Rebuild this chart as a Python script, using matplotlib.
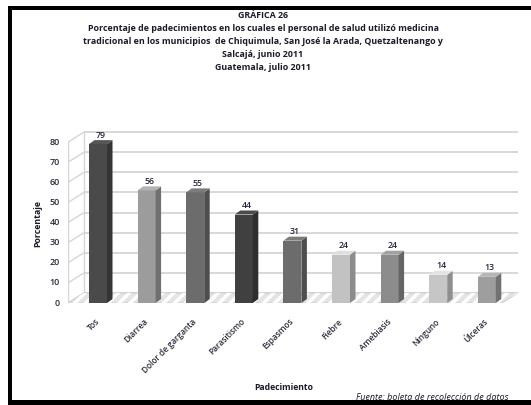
import matplotlib
matplotlib.use("Agg")
import matplotlib.pyplot as plt
from matplotlib.patches import Polygon, Rectangle
import matplotlib.colors as mcolors
import numpy as np

categories = ["Tos", "Diarrea", "Dolor de garganta", "Parasitismo", "Espasmos",
              "Fiebre", "Amebiasis", "Ninguno", "Úlceras"]
values = [79, 56, 55, 44, 31, 24, 24, 14, 13]
bar_colors = ["#4a4a4a", "#9c9c9c", "#6c6c6c", "#404040", "#6c6c6c",
              "#c2c2c2", "#8c8c8c", "#c6c6c6", "#9e9e9e"]
yticks = [0, 10, 20, 30, 40, 50, 60, 70, 80]
title_lines = ["GRÁFICA 26",
               "Porcentaje de padecimientos en los cuales el personal de salud utilizó medicina",
               "tradicional en los municipios  de Chiquimula, San José la Arada, Quetzaltenango y",
               "Salcajá, junio 2011",
               "Guatemala, julio 2011"]
xlabel = "Padecimiento"
ylabel = "Porcentaje"
source = "Fuente: boleta de recolección de datos"

plt.rcParams['font.family'] = ['Open Sans', 'DejaVu Sans']

W, H = 531, 405
fig = plt.figure(figsize=(W / 100, H / 100), dpi=100)

left_px, right_px, bot_px, top_px = 68, 518, 303, 122
ax = fig.add_axes([left_px / W, 1 - bot_px / H, (right_px - left_px) / W, (bot_px - top_px) / H])
ymax = 90
ax.set_ylim(0, ymax)
pxu = 48.6
xmin = -(98 - left_px) / pxu
xmax = xmin + (right_px - left_px) / pxu
ax.set_xlim(xmin, xmax)
ax.axis('off')

ypx = (bot_px - top_px) / ymax
ddx = 16 / pxu
ddy = 10 / ypx

grid_c = "#d6d6d6"
plt.rcParams['hatch.color'] = 'white'
plt.rcParams['hatch.linewidth'] = 2.5
floor = Polygon([(xmin, 0), (xmax - ddx, 0), (xmax, ddy), (xmin + ddx, ddy)],
                closed=True, facecolor="#e4e4e4", edgecolor="#d0d0d0", lw=0.8,
                zorder=1)
ax.add_patch(floor)
floor2 = Polygon([(xmin, 0), (xmax - ddx, 0), (xmax, ddy), (xmin + ddx, ddy)],
                 closed=True, facecolor="none", edgecolor="white", lw=0,
                 hatch="///", zorder=1.1)
ax.add_patch(floor2)

for t in yticks:
    ax.plot([xmin + ddx, xmax], [t + ddy, t + ddy], color=grid_c, lw=1.3, zorder=0.5,
            solid_capstyle='butt')
    ax.plot([xmin, xmin + ddx], [t, t + ddy], color=grid_c, lw=1.0, zorder=0.5)
ax.plot([xmin, xmin], [0, yticks[-1]], color=grid_c, lw=1.0, zorder=0.5)
ax.plot([xmin + ddx, xmin + ddx], [ddy, yticks[-1] + ddy], color=grid_c, lw=1.0, zorder=0.5)

bw = 18 / pxu
sdx = 5.5 / pxu
sdy = 4 / ypx
x = np.arange(len(categories))
bars = ax.bar(x, values, width=bw, color=bar_colors, zorder=3, linewidth=0)
for rect, v, c in zip(bars, values, bar_colors):
    x0 = rect.get_x()
    x1 = x0 + rect.get_width()
    rgb = np.array(mcolors.to_rgb(c))
    side = Polygon([(x1, 0), (x1 + sdx, sdy), (x1 + sdx, v + sdy), (x1, v)],
                   closed=True, facecolor=rgb * 0.72, edgecolor='none', zorder=3)
    top = Polygon([(x0, v), (x1, v), (x1 + sdx, v + sdy), (x0 + sdx, v + sdy)],
                  closed=True, facecolor=np.clip(rgb * 1.15, 0, 1), edgecolor='none', zorder=3)
    ax.add_patch(side)
    ax.add_patch(top)
    ax.text(x0 + (bw + sdx) / 2, v + sdy + 0.2, str(v), ha='center', va='bottom',
            fontsize=6.3, fontweight='semibold', color="#262640", zorder=4)

for t in yticks:
    ax.text(xmin - 8 / pxu, t, str(t), ha='right', va='center', fontsize=6.5,
            fontweight='semibold', color="#2a2a3a")

for xi, lab in zip(x, categories):
    ax.text(xi - 3 / pxu, -7, lab, rotation=45, ha='right', va='top',
            rotation_mode='anchor', fontsize=6.0, fontweight='semibold', color="#2a2a3a")

for i, line in enumerate(title_lines):
    fig.text(263 / W, 1 - (15 + 13.2 * i) / H, line, ha='center', va='center',
             fontsize=6.4, fontweight='bold', color="#1a1a2a")

fig.text(38 / W, 1 - 224 / H, ylabel, rotation=90, ha='center', va='center',
         fontsize=6.3, fontweight='bold', color="#1a1a2a")
fig.text(284 / W, 1 - 388 / H, xlabel, ha='center', va='center',
         fontsize=6.2, fontweight='bold', color="#1a1a2a")
fig.text(508 / W, 1 - 397 / H, source, ha='right', va='center',
         fontsize=6.5, style='italic', color="#1a1a2a")

fig.add_artist(Rectangle((8 / W, 0), 4 / W, 1 - 6 / H, transform=fig.transFigure,
                         facecolor='black', edgecolor='none'))
fig.add_artist(Rectangle((8 / W, 1 - 10 / H), 1 - 8 / W, 4 / H, transform=fig.transFigure,
                         facecolor='black', edgecolor='none'))
fig.add_artist(Rectangle((8 / W, 0), 1 - 8 / W, 5 / H, transform=fig.transFigure,
                         facecolor='black', edgecolor='none'))

fig.savefig("out.png", dpi=100)
